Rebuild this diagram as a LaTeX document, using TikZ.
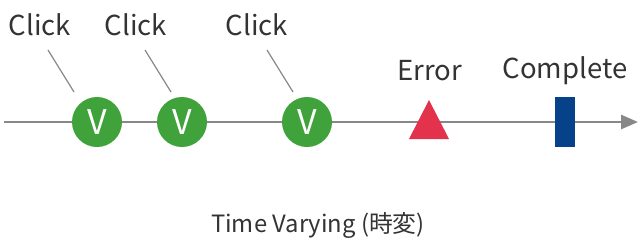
\documentclass[tikz,border=0pt]{standalone}
\usepackage{fontspec}
\setmainfont{Noto Sans CJK JP}
\usetikzlibrary{arrows.meta}
\definecolor{evgreen}{HTML}{3FA23A}
\definecolor{everr}{HTML}{E2324C}
\definecolor{evdone}{HTML}{05428A}
\definecolor{axisgray}{HTML}{888888}
\definecolor{txt}{HTML}{333333}
\begin{document}
\begin{tikzpicture}[x=1pt,y=-1pt,
  lbl/.style={text=txt,font=\fontsize{27.5}{30}\selectfont,inner sep=0pt},
  valnode/.style={circle,fill=evgreen,minimum size=50pt,inner sep=0pt,text=white,font=\fontsize{34}{36}\selectfont},
  leader/.style={draw=axisgray,line width=1.2pt},
  axis/.style={draw=axisgray,line width=2.6pt,-{Triangle[length=17pt,width=14pt]}}]
\useasboundingbox (0,0) rectangle (640,250);
% time axis
\coordinate (start) at (4,122);
\coordinate (tip) at (638,122);
\draw[axis] (start) -- (tip);
% emitted values
\node[valnode] (v1) at (97,122) {V};
\node[valnode] (v2) at (182,122) {V};
\node[valnode] (v3) at (307,122) {V};
% error marker (triangle) and completion marker (bar)
\coordinate (errtop) at (429,100);
\coordinate (errl) at (409,139);
\coordinate (errr) at (449,139);
\fill[everr] (errtop) -- (errr) -- (errl) -- cycle;
\node[fill=evdone,minimum width=20pt,minimum height=50pt,inner sep=0pt] (done) at (565,122) {};
% labels
\node[lbl] (c1) at (40,25) {Click};
\node[lbl] (c2) at (136,25) {Click};
\node[lbl] (c3) at (257,25) {Click};
\node[lbl] (err) at (430,71) {Error};
\node[lbl] (cmp) at (565,71) {Complete};
\node[text=txt,font=\fontsize{23.8}{26}\selectfont,inner sep=0pt] (cap) at (318,225) {Time Varying (時変)};
% leader lines
\coordinate (l1a) at (48,50); \coordinate (l1b) at (74,92);
\coordinate (l2a) at (145,50); \coordinate (l2b) at (171,92);
\coordinate (l3a) at (267,50); \coordinate (l3b) at (293,92);
\draw[leader] (l1a) -- (l1b);
\draw[leader] (l2a) -- (l2b);
\draw[leader] (l3a) -- (l3b);
\end{tikzpicture}
\end{document}
